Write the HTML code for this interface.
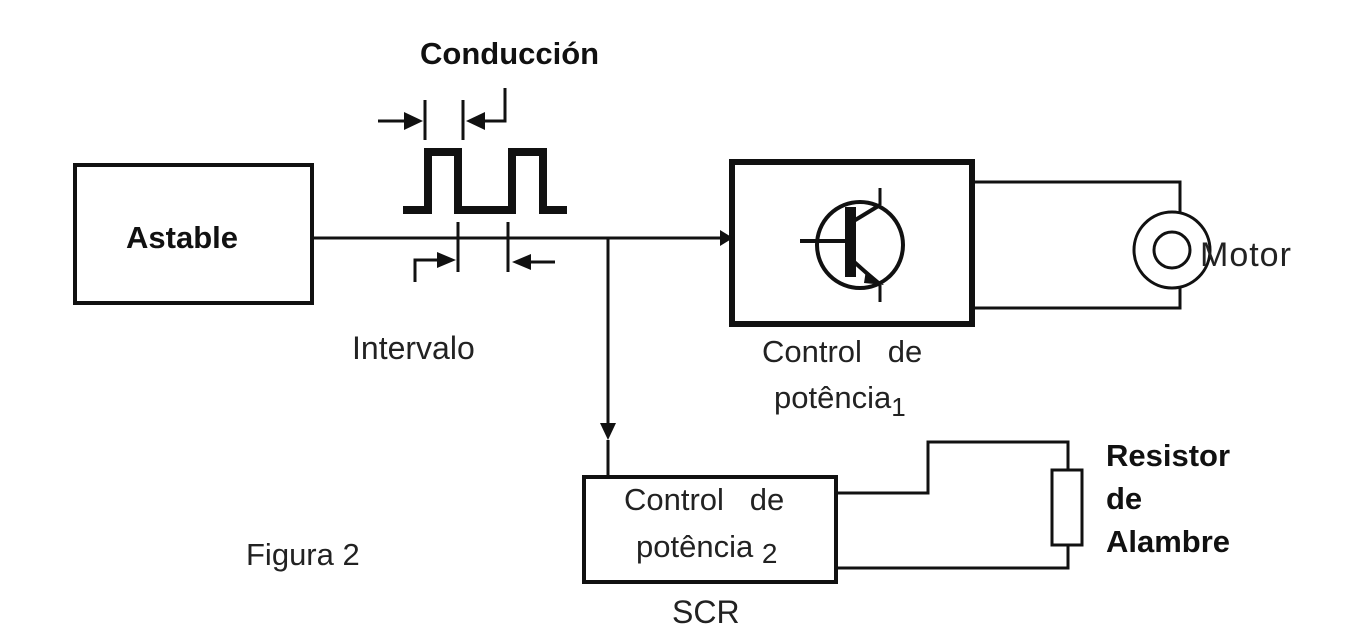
<!DOCTYPE html>
<html><head><style>
body{margin:0;background:#fff;width:1347px;height:633px;overflow:hidden;position:relative;font-family:"Liberation Sans",sans-serif}
.t{position:absolute;white-space:nowrap;color:#111}
.b{font-weight:bold;font-size:31px}
.n{font-size:31px;color:#222}
</style></head><body>
<svg width="1347" height="633" style="position:absolute;left:0;top:0">
<g stroke="#111" fill="none">
<rect x="75" y="165" width="237" height="138" stroke-width="4"/>
<rect x="732" y="162" width="240" height="162" stroke-width="6"/>
<rect x="584" y="477" width="252" height="105" stroke-width="4"/>
<polyline points="403,210 428,210 428,152 458,152 458,210 512,210 512,152 543,152 543,210 567,210" stroke-width="8"/>
<line x1="313" y1="238" x2="720" y2="238" stroke-width="3"/>
<line x1="608" y1="238" x2="608" y2="425" stroke-width="3"/>
<line x1="608" y1="440" x2="608" y2="477" stroke-width="3"/>
<line x1="425" y1="100" x2="425" y2="140" stroke-width="3"/>
<line x1="463" y1="100" x2="463" y2="140" stroke-width="3"/>
<line x1="378" y1="121" x2="405" y2="121" stroke-width="3"/>
<polyline points="485,121 505,121 505,88" stroke-width="3"/>
<line x1="458" y1="222" x2="458" y2="272" stroke-width="3"/>
<line x1="508" y1="222" x2="508" y2="272" stroke-width="3"/>
<polyline points="415,282 415,260 440,260" stroke-width="3"/>
<line x1="530" y1="262" x2="555" y2="262" stroke-width="3"/>
<polyline points="972,182 1180,182 1180,213" stroke-width="3"/>
<polyline points="972,308 1180,308 1180,288" stroke-width="3"/>
<circle cx="1172" cy="250" r="38" stroke-width="3"/>
<circle cx="1172" cy="250" r="18" stroke-width="3"/>
<polyline points="836,493 928,493 928,442 1068,442 1068,470" stroke-width="3"/>
<polyline points="836,568 1068,568 1068,545" stroke-width="3"/>
<rect x="1052" y="470" width="30" height="75" stroke-width="3"/>
<circle cx="860" cy="245" r="43" stroke-width="4"/>
<line x1="800" y1="241" x2="848" y2="241" stroke-width="4"/>
<line x1="880" y1="188" x2="880" y2="205" stroke-width="3"/>
<line x1="880" y1="285" x2="880" y2="302" stroke-width="3"/>
<line x1="852" y1="222" x2="880" y2="205" stroke-width="4"/>
<line x1="852" y1="260" x2="880" y2="285" stroke-width="4"/>
</g>
<g fill="#111">
<rect x="845" y="207" width="11" height="70"/>
<polygon points="720,230 733,238 720,246"/>
<polygon points="600,423 616,423 608,440"/>
<polygon points="404,112 423,121 404,130"/>
<polygon points="485,112 466,121 485,130"/>
<polygon points="437,252 456,260 437,268"/>
<polygon points="531,254 512,262 531,270"/>
<polygon points="866,270 884,285 864,283"/>
</g>
</svg>
<div class="t b" style="left:420px;top:36px">Conducción</div>
<div class="t b" style="left:126px;top:220px;font-size:31px">Astable</div>
<div class="t n" style="left:352px;top:330px;font-size:32px">Intervalo</div>
<div class="t n" style="left:1200px;top:236px;font-size:34px;letter-spacing:1px">Motor</div>
<div class="t n" style="left:762px;top:334px;font-size:31px">Control&nbsp;&nbsp; de</div>
<div class="t n" style="left:774px;top:380px;font-size:31px">potência<span style="font-size:26px;position:relative;top:8px">1</span></div>
<div class="t n" style="left:624px;top:482px;font-size:31px">Control&nbsp;&nbsp; de</div>
<div class="t n" style="left:636px;top:529px;font-size:31px">potência <span style="font-size:28px;position:relative;top:6px">2</span></div>
<div class="t n" style="left:246px;top:537px;font-size:31px">Figura 2</div>
<div class="t n" style="left:672px;top:594px;font-size:32px">SCR</div>
<div class="t b" style="left:1106px;top:434px;line-height:43px">Resistor<br>de<br>Alambre</div>
</body></html>
